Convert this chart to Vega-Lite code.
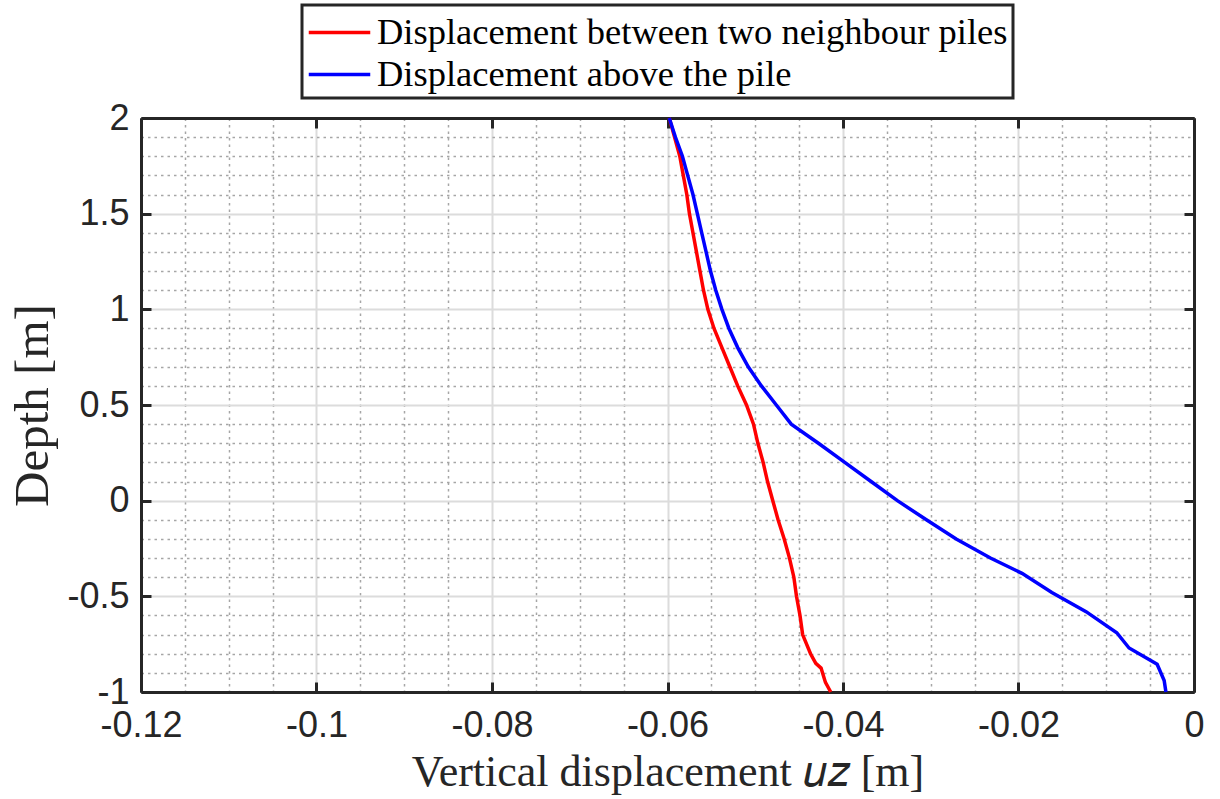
{
  "$schema": "https://vega.github.io/schema/vega-lite/v6.json",
  "width": 1053,
  "height": 574,
  "autosize": {"type": "none"},
  "padding": {"left": 141, "top": 118, "right": 26, "bottom": 107},
  "config": {
    "view": {"stroke": null},
    "font": "Liberation Sans",
    "legend": {"strokeWidth": 3}
  },
  "data": {
    "values": [
      {"s": "Displacement between two neighbour piles", "depth": 2.0, "u": -0.0598},
      {"s": "Displacement between two neighbour piles", "depth": 1.9, "u": -0.0592},
      {"s": "Displacement between two neighbour piles", "depth": 1.8, "u": -0.0586},
      {"s": "Displacement between two neighbour piles", "depth": 1.7, "u": -0.0582},
      {"s": "Displacement between two neighbour piles", "depth": 1.6, "u": -0.0578},
      {"s": "Displacement between two neighbour piles", "depth": 1.5, "u": -0.0575},
      {"s": "Displacement between two neighbour piles", "depth": 1.4, "u": -0.0571},
      {"s": "Displacement between two neighbour piles", "depth": 1.3, "u": -0.0567},
      {"s": "Displacement between two neighbour piles", "depth": 1.2, "u": -0.0563},
      {"s": "Displacement between two neighbour piles", "depth": 1.1, "u": -0.0559},
      {"s": "Displacement between two neighbour piles", "depth": 1.0, "u": -0.0554},
      {"s": "Displacement between two neighbour piles", "depth": 0.9, "u": -0.0547},
      {"s": "Displacement between two neighbour piles", "depth": 0.8, "u": -0.0538},
      {"s": "Displacement between two neighbour piles", "depth": 0.7, "u": -0.0529},
      {"s": "Displacement between two neighbour piles", "depth": 0.6, "u": -0.052},
      {"s": "Displacement between two neighbour piles", "depth": 0.5, "u": -0.051},
      {"s": "Displacement between two neighbour piles", "depth": 0.4, "u": -0.0502},
      {"s": "Displacement between two neighbour piles", "depth": 0.3, "u": -0.0497},
      {"s": "Displacement between two neighbour piles", "depth": 0.2, "u": -0.0491},
      {"s": "Displacement between two neighbour piles", "depth": 0.1, "u": -0.0486},
      {"s": "Displacement between two neighbour piles", "depth": 0.0, "u": -0.048},
      {"s": "Displacement between two neighbour piles", "depth": -0.1, "u": -0.0474},
      {"s": "Displacement between two neighbour piles", "depth": -0.2, "u": -0.0467},
      {"s": "Displacement between two neighbour piles", "depth": -0.3, "u": -0.0461},
      {"s": "Displacement between two neighbour piles", "depth": -0.4, "u": -0.0456},
      {"s": "Displacement between two neighbour piles", "depth": -0.5, "u": -0.0453},
      {"s": "Displacement between two neighbour piles", "depth": -0.6, "u": -0.0449},
      {"s": "Displacement between two neighbour piles", "depth": -0.7, "u": -0.0446},
      {"s": "Displacement between two neighbour piles", "depth": -0.8, "u": -0.0437},
      {"s": "Displacement between two neighbour piles", "depth": -0.85, "u": -0.0431},
      {"s": "Displacement between two neighbour piles", "depth": -0.875, "u": -0.0425},
      {"s": "Displacement between two neighbour piles", "depth": -0.95, "u": -0.042},
      {"s": "Displacement between two neighbour piles", "depth": -1.0, "u": -0.0414},
      {"s": "Displacement above the pile", "depth": 2.0, "u": -0.0598},
      {"s": "Displacement above the pile", "depth": 1.9, "u": -0.0591},
      {"s": "Displacement above the pile", "depth": 1.8, "u": -0.0583},
      {"s": "Displacement above the pile", "depth": 1.7, "u": -0.0577},
      {"s": "Displacement above the pile", "depth": 1.6, "u": -0.0571},
      {"s": "Displacement above the pile", "depth": 1.5, "u": -0.0566},
      {"s": "Displacement above the pile", "depth": 1.4, "u": -0.0561},
      {"s": "Displacement above the pile", "depth": 1.3, "u": -0.0556},
      {"s": "Displacement above the pile", "depth": 1.2, "u": -0.0551},
      {"s": "Displacement above the pile", "depth": 1.1, "u": -0.0545},
      {"s": "Displacement above the pile", "depth": 1.0, "u": -0.0538},
      {"s": "Displacement above the pile", "depth": 0.9, "u": -0.053},
      {"s": "Displacement above the pile", "depth": 0.8, "u": -0.052},
      {"s": "Displacement above the pile", "depth": 0.7, "u": -0.0508},
      {"s": "Displacement above the pile", "depth": 0.6, "u": -0.0493},
      {"s": "Displacement above the pile", "depth": 0.5, "u": -0.0476},
      {"s": "Displacement above the pile", "depth": 0.4, "u": -0.0459},
      {"s": "Displacement above the pile", "depth": 0.3, "u": -0.0428},
      {"s": "Displacement above the pile", "depth": 0.2, "u": -0.0398},
      {"s": "Displacement above the pile", "depth": 0.1, "u": -0.0368},
      {"s": "Displacement above the pile", "depth": 0.0, "u": -0.0338},
      {"s": "Displacement above the pile", "depth": -0.1, "u": -0.0305},
      {"s": "Displacement above the pile", "depth": -0.2, "u": -0.0271},
      {"s": "Displacement above the pile", "depth": -0.3, "u": -0.0232},
      {"s": "Displacement above the pile", "depth": -0.38, "u": -0.0196},
      {"s": "Displacement above the pile", "depth": -0.48, "u": -0.0162},
      {"s": "Displacement above the pile", "depth": -0.58, "u": -0.0123},
      {"s": "Displacement above the pile", "depth": -0.69, "u": -0.0088},
      {"s": "Displacement above the pile", "depth": -0.77, "u": -0.0074},
      {"s": "Displacement above the pile", "depth": -0.855, "u": -0.0042},
      {"s": "Displacement above the pile", "depth": -0.94, "u": -0.0034},
      {"s": "Displacement above the pile", "depth": -1.0, "u": -0.0032}
    ]
  },
  "layer": [
    {
      "mark": {"type": "line", "strokeOpacity": 0},
      "encoding": {
        "x": {
          "field": "u", "type": "quantitative",
          "scale": {"domain": [-0.12, 0], "nice": false, "zero": false},
          "axis": {
            "orient": "bottom",
            "values": [-0.115, -0.11, -0.105, -0.095, -0.09, -0.085, -0.075, -0.07, -0.065, -0.055, -0.05, -0.045, -0.035, -0.03, -0.025, -0.015, -0.01, -0.005],
            "grid": true, "gridDash": [2.5, 4], "gridColor": "#a6a6a6", "gridWidth": 1.5,
            "ticks": false, "labels": false, "domain": false, "title": null
          }
        },
        "y": {
          "field": "depth", "type": "quantitative",
          "scale": {"domain": [-1, 2], "nice": false, "zero": false},
          "axis": {
            "orient": "left",
            "values": [1.9, 1.8, 1.7, 1.6, 1.4, 1.3, 1.2, 1.1, 0.9, 0.8, 0.7, 0.6, 0.4, 0.3, 0.2, 0.1, -0.1, -0.2, -0.3, -0.4, -0.6, -0.7, -0.8, -0.9],
            "grid": true, "gridDash": [2.5, 4], "gridColor": "#a6a6a6", "gridWidth": 1.5,
            "ticks": false, "labels": false, "domain": false, "title": null
          }
        },
        "detail": {"field": "s"}
      }
    },
    {
      "mark": {"type": "line", "strokeWidth": 3.5},
      "encoding": {
        "x": {
          "field": "u", "type": "quantitative",
          "scale": {"domain": [-0.12, 0], "nice": false, "zero": false},
          "axis": {
            "orient": "bottom",
            "values": [-0.12, -0.1, -0.08, -0.06, -0.04, -0.02, 0],
            "labelExpr": "'' + datum.value",
            "grid": true, "gridColor": "#dcdcdc", "gridWidth": 2,
            "ticks": true, "tickSize": -10, "tickWidth": 3, "tickColor": "#262626",
            "domain": true, "domainColor": "#262626", "domainWidth": 3,
            "labelFont": "Liberation Sans", "labelFontSize": 36, "labelColor": "#262626",
            "labelPadding": 26, "labelFlush": false, "labelOverlap": false,
            "title": "Vertical displacement 𝑢𝑧 [m]",
            "titleFont": "Liberation Serif", "titleFontSize": 44, "titleFontWeight": "normal",
            "titleColor": "#262626", "titlePadding": 7
          }
        },
        "y": {
          "field": "depth", "type": "quantitative",
          "scale": {"domain": [-1, 2], "nice": false, "zero": false},
          "axis": {
            "orient": "left",
            "values": [2, 1.5, 1, 0.5, 0, -0.5, -1],
            "labelExpr": "'' + datum.value",
            "grid": true, "gridColor": "#dcdcdc", "gridWidth": 2,
            "ticks": true, "tickSize": -10, "tickWidth": 3, "tickColor": "#262626",
            "domain": true, "domainColor": "#262626", "domainWidth": 3,
            "labelFont": "Liberation Sans", "labelFontSize": 36, "labelColor": "#262626",
            "labelPadding": 22, "labelFlush": false, "labelOverlap": false,
            "title": "Depth [m]",
            "titleFont": "Liberation Serif", "titleFontSize": 49, "titleFontWeight": "normal",
            "titleColor": "#262626", "titlePadding": 9
          }
        },
        "color": {
          "field": "s", "type": "nominal",
          "scale": {
            "domain": ["Displacement between two neighbour piles", "Displacement above the pile"],
            "range": ["#ff0000", "#0000ff"]
          },
          "legend": {
            "orient": "none", "legendX": 161, "legendY": -113,
            "title": null, "symbolType": "M-1.5,0H1.5", "symbolSize": 1681, "symbolStrokeWidth": 3.5,
            "symbolOffset": 10,
            "labelFont": "Liberation Serif", "labelFontSize": 36.5, "labelColor": "black",
            "labelLimit": 0, "labelOffset": 15, "padding": 5, "rowPadding": 1,
            "strokeColor": "#262626", "fillColor": "white"
          }
        },
        "order": {"field": "depth", "sort": "descending"}
      }
    },
    {
      "mark": {"type": "line", "strokeOpacity": 0},
      "encoding": {
        "x": {
          "field": "u", "type": "quantitative",
          "scale": {"domain": [-0.12, 0], "nice": false, "zero": false},
          "axis": {
            "orient": "top",
            "values": [-0.12, -0.1, -0.08, -0.06, -0.04, -0.02, 0],
            "grid": false, "labels": false, "title": null,
            "ticks": true, "tickSize": -10, "tickWidth": 3, "tickColor": "#262626",
            "domain": true, "domainColor": "#262626", "domainWidth": 3
          }
        },
        "y": {
          "field": "depth", "type": "quantitative",
          "scale": {"domain": [-1, 2], "nice": false, "zero": false},
          "axis": {
            "orient": "right",
            "values": [2, 1.5, 1, 0.5, 0, -0.5, -1],
            "grid": false, "labels": false, "title": null,
            "ticks": true, "tickSize": -10, "tickWidth": 3, "tickColor": "#262626",
            "domain": true, "domainColor": "#262626", "domainWidth": 3
          }
        },
        "detail": {"field": "s"}
      }
    }
  ],
  "resolve": {"axis": {"x": "independent", "y": "independent"}}
}
